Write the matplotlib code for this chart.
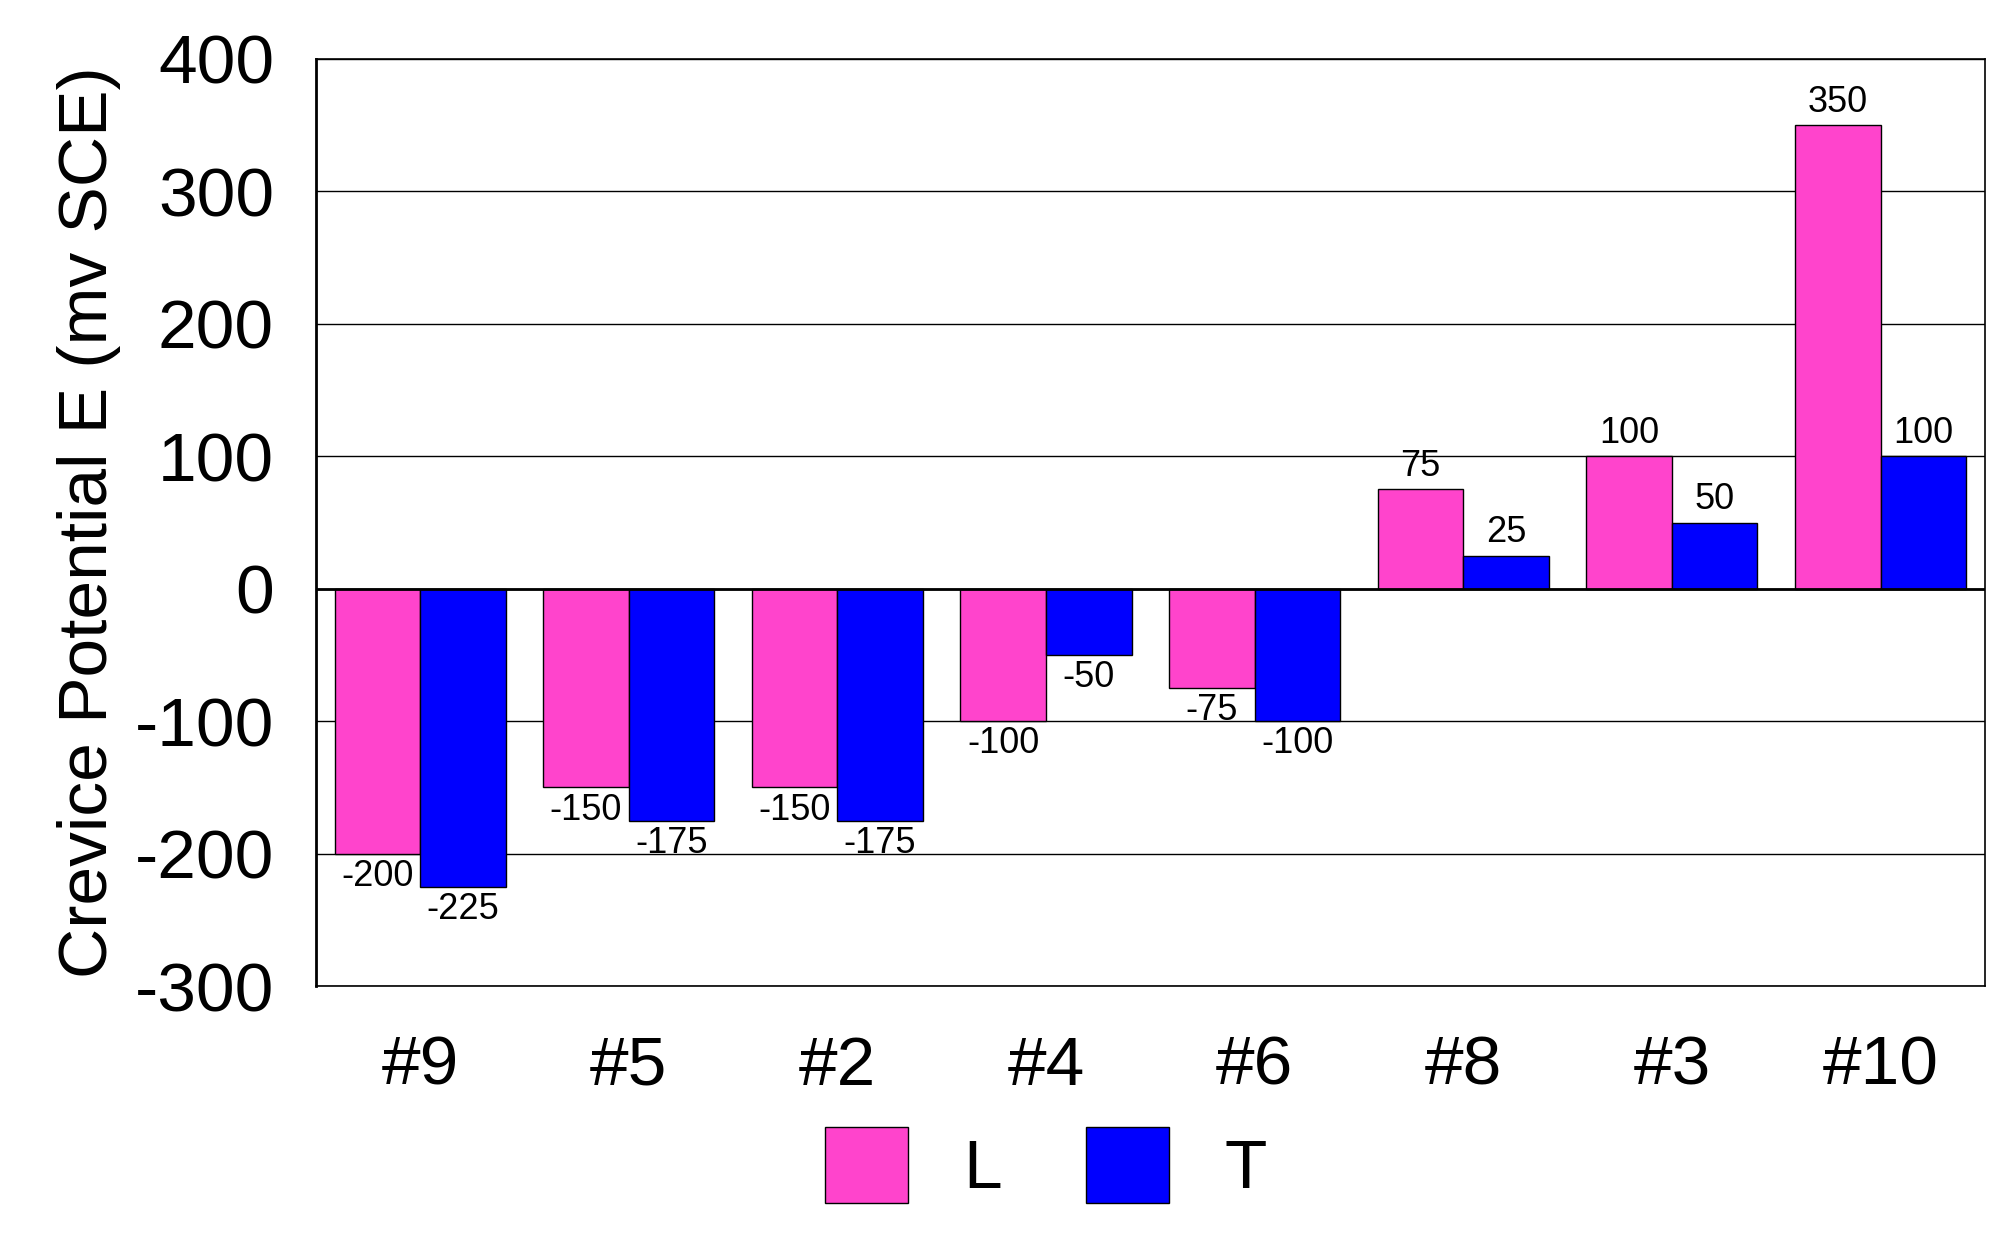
import matplotlib.pyplot as plt
import numpy as np

plt.rcParams['font.family'] = 'Liberation Sans'
plt.rcParams['axes.unicode_minus'] = False

categories = ['#9', '#5', '#2', '#4', '#6', '#8', '#3', '#10']
l_values = [-200, -150, -150, -100, -75, 75, 100, 350]
t_values = [-225, -175, -175, -50, -100, 25, 50, 100]
y_ticks = [-300, -200, -100, 0, 100, 200, 300, 400]

fig = plt.figure(figsize=(20.11, 12.53), dpi=100)
ax = fig.add_axes([0.157, 0.213, 0.83, 0.74])

x = np.arange(len(categories))
w = 0.41
bars_l = ax.bar(x - w / 2, l_values, w, color='#ff44cc', edgecolor='black', linewidth=1, label='L', zorder=3)
bars_t = ax.bar(x + w / 2, t_values, w, color='#0000ff', edgecolor='black', linewidth=1, label='T', zorder=3)

for bars, vals in ((bars_l, l_values), (bars_t, t_values)):
    for b, v in zip(bars, vals):
        off = 4 if v > 0 else -4
        ax.text(b.get_x() + b.get_width() / 2, v + off, str(v), ha='center',
                va='bottom' if v > 0 else 'top', fontsize=26, zorder=4)

ax.set_xlim(-0.5, len(categories) - 0.5)
ax.set_ylim(-300, 400)
ax.set_yticks(y_ticks)
ax.tick_params(axis='y', labelsize=50, length=0, pad=30)
ax.set_xticks(x)
ax.set_xticklabels(categories)
ax.tick_params(axis='x', labelsize=50, length=0, pad=35)
ax.grid(axis='y', color='black', linewidth=1, zorder=0)
ax.axhline(0, color='black', linewidth=2, zorder=4)
ax.set_ylabel('Crevice Potential E (mv SCE)', fontsize=50, labelpad=10)
for s in ax.spines.values():
    s.set_linewidth(1.2)
ax.spines['left'].set_linewidth(2)

fig.legend(loc='lower center', bbox_to_anchor=(0.52, -0.01), ncol=2, frameon=False,
           fontsize=50, handlelength=1.2, handleheight=1.3, columnspacing=1.2)

fig.savefig('out.png', dpi=100)
